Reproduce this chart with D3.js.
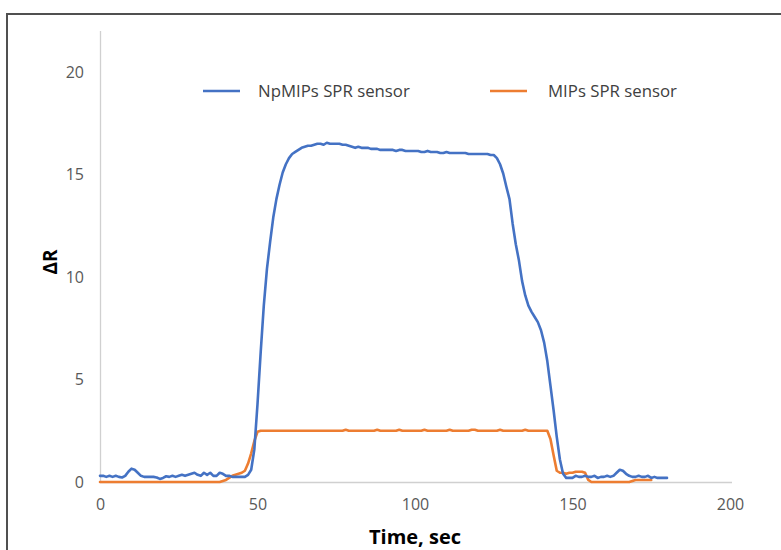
<!DOCTYPE html>
<html>
<head>
<meta charset="utf-8">
<script src="https://cdn.jsdelivr.net/npm/d3@7/dist/d3.min.js"></script>
<style>
  html, body { margin: 0; padding: 0; background: #fff; }
  svg { display: block; }
</style>
</head>
<body>
<svg id="chart" width="781" height="550"></svg>
<script>
// Response of the two sensors (ΔR) against time, 1 s sampling
const npTime = d3.range(0, 181);
const npDR = [
  0.3, 0.3, 0.25, 0.3, 0.25, 0.3, 0.25, 0.22, 0.3, 0.5,
  0.65, 0.6, 0.45, 0.3, 0.25, 0.25, 0.25, 0.25, 0.22, 0.15,
  0.2, 0.28, 0.25, 0.3, 0.25, 0.3, 0.35, 0.3, 0.35, 0.4,
  0.45, 0.35, 0.3, 0.45, 0.35, 0.45, 0.3, 0.3, 0.45, 0.4,
  0.3, 0.3, 0.25, 0.25, 0.25, 0.25, 0.25, 0.35, 0.6, 1.6,
  3.8, 6.3, 8.6, 10.4, 11.7, 12.9, 13.8, 14.5, 15.1, 15.5,
  15.8, 16.0, 16.1, 16.2, 16.3, 16.35, 16.4, 16.4, 16.45, 16.5,
  16.5, 16.45, 16.55, 16.5, 16.5, 16.5, 16.5, 16.45, 16.45, 16.4,
  16.35, 16.3, 16.35, 16.3, 16.3, 16.3, 16.25, 16.25, 16.25, 16.2,
  16.2, 16.2, 16.2, 16.2, 16.15, 16.2, 16.2, 16.15, 16.15, 16.15,
  16.15, 16.15, 16.1, 16.1, 16.15, 16.1, 16.1, 16.1, 16.05, 16.05,
  16.1, 16.05, 16.05, 16.05, 16.05, 16.05, 16.05, 16.0, 16.0, 16.0,
  16.0, 16.0, 16.0, 16.0, 15.95, 15.95, 15.8, 15.5, 15.05, 14.4,
  13.8, 12.6, 11.6, 10.8, 9.8, 9.1, 8.6, 8.3, 8.05, 7.8,
  7.4, 6.8, 5.9, 4.7, 3.5, 2.2, 1.1, 0.4, 0.2, 0.2,
  0.2, 0.3, 0.25, 0.25, 0.3, 0.25, 0.25, 0.3, 0.2, 0.25,
  0.25, 0.3, 0.25, 0.3, 0.45, 0.6, 0.55, 0.4, 0.3, 0.25,
  0.25, 0.3, 0.25, 0.25, 0.3, 0.2, 0.25, 0.2, 0.2, 0.2,
  0.2
];

const mipTime = d3.range(0, 176);
const mipDR = [
  0, 0, 0, 0, 0, 0, 0, 0, 0, 0,
  0, 0, 0, 0, 0, 0, 0, 0, 0, 0,
  0, 0, 0, 0, 0, 0, 0, 0, 0, 0,
  0, 0, 0, 0, 0, 0, 0, 0, 0, 0.05,
  0.1, 0.2, 0.3, 0.35, 0.4, 0.45, 0.55, 0.9, 1.4, 2.0,
  2.45, 2.5, 2.5, 2.5, 2.5, 2.5, 2.5, 2.5, 2.5, 2.5,
  2.5, 2.5, 2.5, 2.5, 2.5, 2.5, 2.5, 2.5, 2.5, 2.5,
  2.5, 2.5, 2.5, 2.5, 2.5, 2.5, 2.5, 2.5, 2.55, 2.5,
  2.5, 2.5, 2.5, 2.5, 2.5, 2.5, 2.5, 2.5, 2.55, 2.5,
  2.5, 2.5, 2.5, 2.5, 2.5, 2.55, 2.5, 2.5, 2.5, 2.5,
  2.5, 2.5, 2.5, 2.55, 2.5, 2.5, 2.5, 2.5, 2.5, 2.5,
  2.5, 2.55, 2.5, 2.5, 2.5, 2.5, 2.5, 2.5, 2.55, 2.55,
  2.5, 2.5, 2.5, 2.5, 2.5, 2.5, 2.5, 2.55, 2.5, 2.5,
  2.5, 2.5, 2.5, 2.5, 2.5, 2.55, 2.5, 2.5, 2.5, 2.5,
  2.5, 2.5, 2.5, 2.1, 1.3, 0.55, 0.45, 0.45, 0.4, 0.45,
  0.45, 0.5, 0.5, 0.5, 0.45, 0.1, 0.0, 0.0, 0.0, 0.0,
  0.0, 0.0, 0.0, 0.0, 0.0, 0.0, 0.0, 0.0, 0.0, 0.05,
  0.1, 0.1, 0.1, 0.1, 0.1, 0.1
];

const xTicks = [0, 50, 100, 150, 200];
const yTicks = [0, 5, 10, 15, 20];
const seriesNames = ["NpMIPs SPR sensor", "MIPs SPR sensor"];
const seriesColors = ["#4472C4", "#ED7D31"];

const svg = d3.select("#chart");
const font = "'Open Sans', 'DejaVu Sans', sans-serif";

// Outer chart frame (only its top and left edges fall inside the view)
svg.append("path")
  .attr("d", "M7,552V14H783")
  .attr("fill", "none")
  .attr("stroke", "#505050")
  .attr("stroke-width", 2);

const x = d3.scaleLinear().domain([0, 200]).range([100, 730]);
const y = d3.scaleLinear().domain([0, 22]).range([482, 31]);

// Axes
const xAxis = svg.append("g")
  .attr("transform", `translate(0,${y(0)})`)
  .call(d3.axisBottom(x).tickValues(xTicks).tickSize(0).tickPadding(17));
xAxis.select(".domain").attr("stroke", "#d0d0d0").attr("stroke-width", 1.3)
  .attr("d", `M${x(0)},0.5H${x(200) + 2}`);
xAxis.selectAll("text").attr("font-family", font).attr("font-size", 16).attr("fill", "#595959");

const yAxis = svg.append("g")
  .attr("transform", `translate(${x(0)},0)`)
  .call(d3.axisLeft(y).tickValues(yTicks).tickSize(0).tickPadding(16));
yAxis.select(".domain").attr("stroke", "#d0d0d0").attr("stroke-width", 1.3)
  .attr("d", `M0.5,${y(0)}V${y(22)}`);
yAxis.selectAll("text").attr("font-family", font).attr("font-size", 16).attr("fill", "#595959");

// Axis titles
svg.append("text")
  .attr("x", 415).attr("y", 544)
  .attr("text-anchor", "middle")
  .attr("font-family", font).attr("font-weight", "bold").attr("font-size", 20)
  .attr("fill", "#000")
  .text("Time, sec");

svg.append("text")
  .attr("transform", "translate(57,262) rotate(-90)")
  .attr("text-anchor", "middle")
  .attr("font-family", font).attr("font-weight", "bold").attr("font-size", 19)
  .attr("fill", "#000")
  .text("ΔR");

// Data lines
const line = d3.line()
  .x(d => x(d[0]))
  .y(d => y(d[1]));

const series = [
  npTime.map((t, i) => [t, npDR[i]]),
  mipTime.map((t, i) => [t, mipDR[i]])
];

// Orange drawn first, blue on top
[1, 0].forEach(k => {
  svg.append("path")
    .datum(series[k])
    .attr("d", line)
    .attr("fill", "none")
    .attr("stroke", seriesColors[k])
    .attr("stroke-width", 2.6)
    .attr("stroke-linejoin", "round")
    .attr("stroke-linecap", "round");
});

// Legend
const legendX = [203, 490];
seriesNames.forEach((name, i) => {
  const g = svg.append("g").attr("transform", `translate(${legendX[i]},91)`);
  g.append("line")
    .attr("x1", 0).attr("x2", 37).attr("y1", 0).attr("y2", 0)
    .attr("stroke", seriesColors[i]).attr("stroke-width", 2.6);
  g.append("text")
    .attr("x", i === 0 ? 55 : 58).attr("y", 6)
    .attr("font-family", font).attr("font-size", 16.8)
    .attr("fill", "#404040")
    .text(name);
});
</script>
</body>
</html>
